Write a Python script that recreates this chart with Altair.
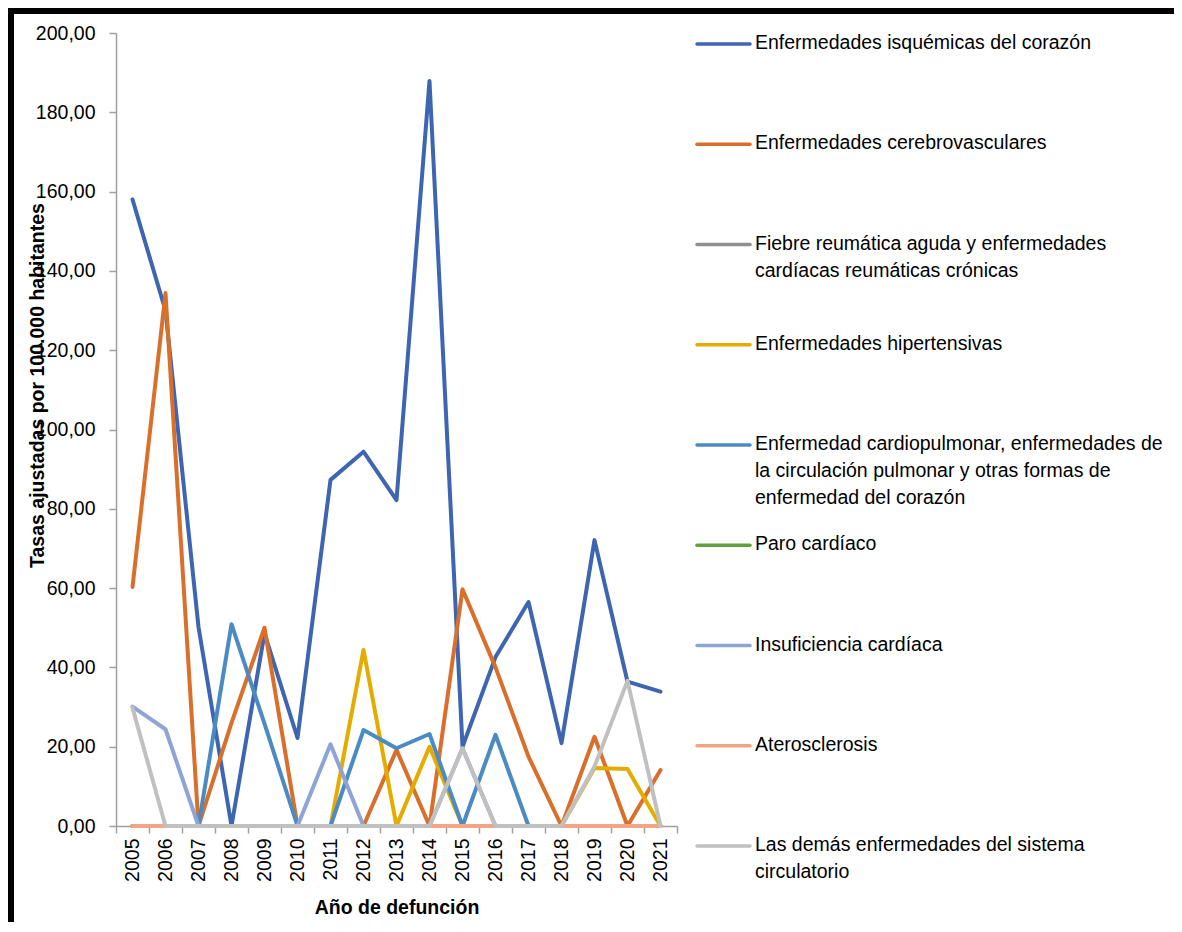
import altair as alt
import pandas as pd

# ---------------- data ----------------
years = list(range(2005, 2022))

series = [
    "Enfermedades isquémicas del corazón",
    "Enfermedades cerebrovasculares",
    "Fiebre reumática aguda y enfermedades cardíacas reumáticas crónicas",
    "Enfermedades hipertensivas",
    "Enfermedad cardiopulmonar, enfermedades de la circulación pulmonar y otras formas de enfermedad del corazón",
    "Paro cardíaco",
    "Insuficiencia cardíaca",
    "Aterosclerosis",
    "Las demás enfermedades del sistema circulatorio",
]

legend_labels = [
    "Enfermedades isquémicas del corazón",
    "Enfermedades cerebrovasculares",
    "Fiebre reumática aguda y enfermedades\ncardíacas reumáticas crónicas",
    "Enfermedades hipertensivas",
    "Enfermedad cardiopulmonar, enfermedades de\nla circulación pulmonar y otras formas de\nenfermedad del corazón",
    "Paro cardíaco",
    "Insuficiencia cardíaca",
    "Aterosclerosis",
    "Las demás enfermedades del sistema\ncirculatorio",
]

colors = ["#3D65B2", "#D96F2B", "#8F8F8F", "#E5AC00", "#4B8BC3",
          "#62A03F", "#8EA4D6", "#F3A483", "#C0C0C0"]

isquemicas = [158.0, 130.0, 50.2, 0.0, 48.6, 22.2, 87.3, 94.4, 82.2, 187.9, 20.0, 42.6, 56.5, 20.9, 72.1, 36.4, 33.9]
cerebro = [60.3, 134.4, 0.0, 26.0, 50.0, 0.0, 0.0, 0.0, 19.2, 0.0, 59.7, 40.0, 17.5, 0.0, 22.5, 0.0, 14.1]
fiebre = [0.0] * 17
hipertensivas = [0.0, 0.0, 0.0, 0.0, 0.0, 0.0, 0.0, 44.4, 0.0, 20.0, 0.0, 0.0, 0.0, 0.0, 14.6, 14.4, 0.0]
cardiopulmonar = [0.0, 0.0, 0.0, 50.9, 25.8, 0.0, 0.0, 24.2, 19.6, 23.2, 0.0, 23.0, 0.0, 0.0, 0.0, 0.0, 0.0]
paro = [0.0] * 17
insuficiencia = [30.1, 24.4, 0.0, 0.0, 0.0, 0.0, 20.6, 0.0, 0.0, 0.0, 19.6, 0.0, 0.0, 0.0, 0.0, 0.0, 0.0]
aterosclerosis = [0.0] * 17
demas = [29.8, 0.0, 0.0, 0.0, 0.0, 0.0, 0.0, 0.0, 0.0, 0.0, 19.6, 0.0, 0.0, 0.0, 15.0, 36.6, 0.0]

values = [isquemicas, cerebro, fiebre, hipertensivas, cardiopulmonar,
          paro, insuficiencia, aterosclerosis, demas]

y_ticks = [0, 20, 40, 60, 80, 100, 120, 140, 160, 180, 200]

# ---------------- tables ----------------
rows = []
for s, vals in zip(series, values):
    for yr, v in zip(years, vals):
        rows.append({"serie": s, "anio": str(yr), "valor": v})
df = pd.DataFrame(rows)

df_leg = pd.DataFrame({"serie": series, "label": legend_labels,
                       "idx": list(range(len(series)))})
df_one = pd.DataFrame({"k": [0]})

FONT = "Liberation Sans"
W, H = 561, 793

color_scale = alt.Scale(domain=series, range=colors)

x_enc = alt.X(
    "anio:O",
    scale=alt.Scale(type="band", paddingInner=0, paddingOuter=0),
    sort=[str(y) for y in years],
    axis=alt.Axis(
        title="Año de defunción", labelAngle=-90, tickBand="extent",
        tickSize=7, labelPadding=5, labelFontSize=19.5, labelFont=FONT,
        labelColor="#000000", domainColor="#A0A0A0", tickColor="#A0A0A0",
        domainWidth=1.5, tickWidth=1.5, titleFont=FONT, titleFontSize=19.5,
        titleFontWeight="bold", titleColor="#000000", titleY=81,
        titleBaseline="middle", grid=False,
    ),
)
y_enc = alt.Y(
    "valor:Q",
    scale=alt.Scale(domain=[0, 200], nice=False),
    axis=alt.Axis(
        title="Tasas ajustadas por 100.000 habitantes", values=y_ticks,
        labelExpr="replace(format(datum.value, '.2f'), '.', ',')",
        tickSize=7, labelPadding=14, labelFontSize=19.5, labelFont=FONT,
        labelColor="#000000", domainColor="#A0A0A0", tickColor="#A0A0A0",
        domainWidth=1.5, tickWidth=1.5, titleFont=FONT, titleFontSize=19.5,
        titleFontWeight="bold", titleColor="#000000", titleAngle=270,
        titleX=-79, titleY=352, titleAlign="center", titleBaseline="middle",
        grid=False,
    ),
)

line_layers = []
for s in series:
    line_layers.append(
        alt.Chart(df).transform_filter(alt.datum.serie == s)
        .mark_line(strokeWidth=4, strokeCap="round", strokeJoin="round")
        .encode(x=x_enc, y=y_enc,
                color=alt.Color("serie:N", scale=color_scale, legend=None))
    )
main = alt.layer(*line_layers)

leg_y = alt.Y("idx:Q", scale=alt.Scale(domain=[-0.11, 7.8], reverse=True, nice=False, zero=False), axis=None)
leg_rule = alt.Chart(df_leg).mark_rule(strokeWidth=3.5, strokeCap="round").encode(
    x=alt.value(581), x2=alt.value(634), y=leg_y,
    color=alt.Color("serie:N", scale=color_scale, legend=None),
)
leg_text = alt.Chart(df_leg).mark_text(
    align="left", baseline="top", dy=-10, lineBreak="\n", lineHeight=27,
    font=FONT, fontSize=19.5, color="#000000",
).encode(x=alt.value(639), y=leg_y, text="label:N")
legend = alt.layer(leg_rule, leg_text)

# decorative frame (top and left edges), positioned relative to the plot area
border_left = alt.Chart(df_one).mark_rect(color="#000000").encode(
    x=alt.value(-108), x2=alt.value(-102), y=alt.value(-25), y2=alt.value(889))
border_top = alt.Chart(df_one).mark_rect(color="#000000").encode(
    x=alt.value(-108), x2=alt.value(1058), y=alt.value(-25), y2=alt.value(-19))

chart = (
    alt.layer(main, legend, border_left, border_top)
    .resolve_scale(y="independent")
    .properties(width=W, height=H, padding=0, background="#FFFFFF")
    .configure_view(stroke=None)
)

chart.save("out.html", embed_options={"renderer": "svg", "actions": False})
